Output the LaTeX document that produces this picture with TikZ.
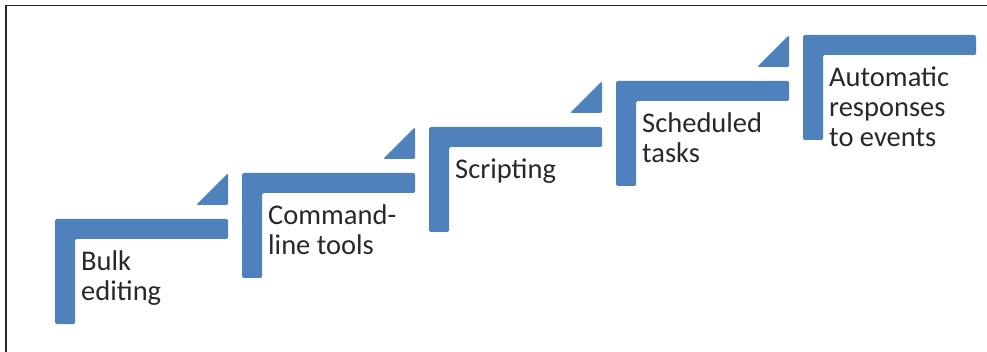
\documentclass[tikz,border=0pt]{standalone}
\usepackage{fontspec}
\setmainfont{Carlito}
\usepackage{tikz}

\definecolor{stepblue}{RGB}{79,129,189}
\definecolor{steptext}{RGB}{40,40,40}

\begin{document}
\begin{tikzpicture}[x=1pt, y=-1pt,
		stair/.style={fill=stepblue, rounded corners=1.5pt},
		steplabel/.style={anchor=base west, align=left, inner sep=0pt, text=steptext,
			font=\fontsize{28.5}{30}\selectfont}]
			\useasboundingbox (0,0) rectangle (987,352);
			% Frame
			\draw[line width=1.8pt, black!85] (6,352) -- (6,5.5) -- (987,5.5);
			% Steps (label anchored on its last line)
			\foreach \i/\n/\txt in {0/2/{Bulk\\editing}, 1/2/{Command-\\line tools}, 2/1/{Scripting},
				3/2/{Scheduled\\tasks}, 4/3/{Automatic\\responses\\to events}} {
				\pgfmathsetmacro{\xa}{55+187*\i}
				\pgfmathsetmacro{\ya}{219-46*\i}
				\fill[stair] (\xa,\ya) -- ++(173,0) -- ++(0,20) -- ++(-153,0) -- ++(0,85) -- ++(-20,0) -- cycle;
				\node[steplabel] (step\i) at (\xa+26,\ya+52+30*\n-30) {\txt};
			}
			% Risers
			\foreach \i in {0,1,2,3} {
				\pgfmathsetmacro{\xa}{55+187*\i}
				\pgfmathsetmacro{\ya}{219-46*\i}
				\fill[stair] (\xa+141,\ya-14) -- ++(32,0) -- ++(0,-32) -- cycle;
			}
		\end{tikzpicture}
\end{document}
